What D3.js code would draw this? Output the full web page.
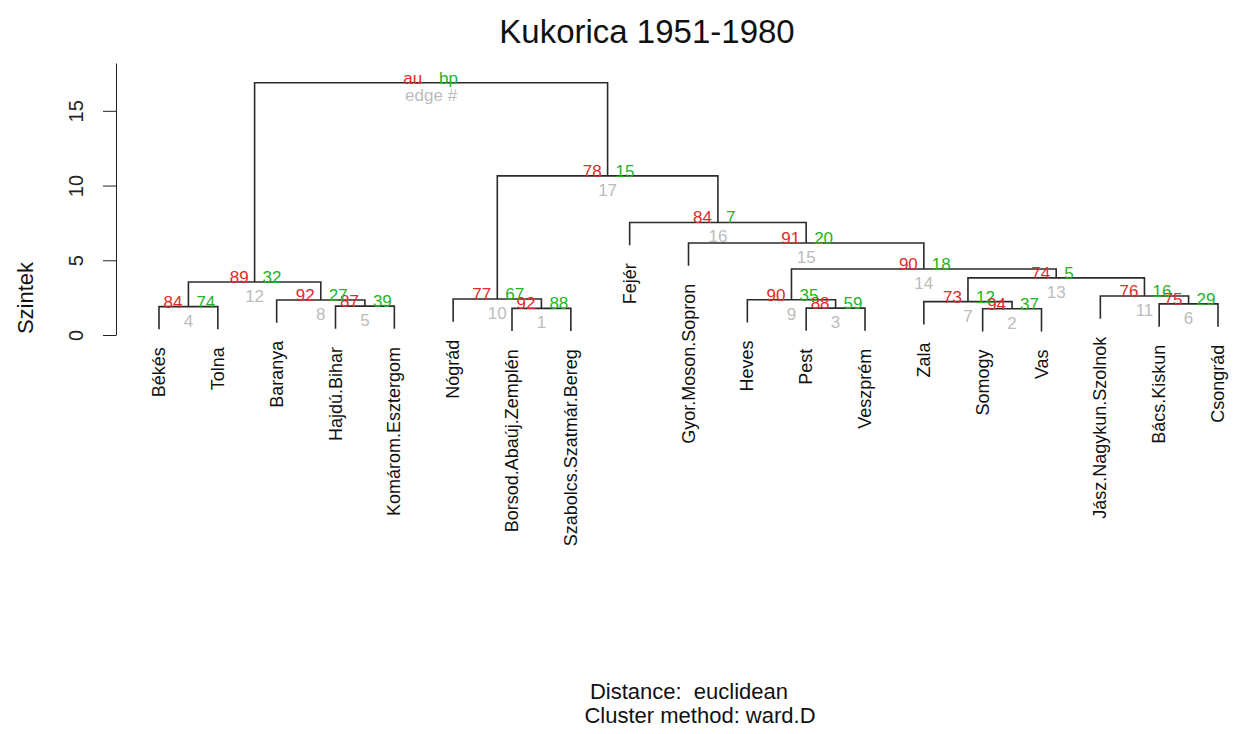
<!DOCTYPE html>
<html>
<head>
<meta charset="utf-8">
<script src="https://cdn.jsdelivr.net/npm/d3@7"></script>
<style>
body { margin: 0; background: #fff; }
text { font-family: "Liberation Sans", Arial, sans-serif; }
</style>
</head>
<body>
<div id="chart-area"></div>
<script>
// Leaves, in plotted order
var leaves = ["Békés", "Tolna", "Baranya", "Hajdú.Bihar", "Komárom.Esztergom",
	"Nógrád", "Borsod.Abaúj.Zemplén", "Szabolcs.Szatmár.Bereg", "Fejér",
	"Gyor.Moson.Sopron", "Heves", "Pest", "Veszprém", "Zala", "Somogy", "Vas",
	"Jász.Nagykun.Szolnok", "Bács.Kiskun", "Csongrád"];

// Merges in edge order (like hclust$merge): negative = leaf (1-based), positive = earlier merge
var mergeLeft  = [-7, -15, -12, -1, -4, -18, -14, -3, -11, -6, -17, 4, 7, 9, -10, -9, 10, 12];
var mergeRight = [-8, -16, -13, -2, -5, -19, 2, 5, 3, 1, 6, 8, 11, 13, 14, 15, 16, 17];
var heights = [1.78, 1.76, 1.80, 1.90, 1.93, 2.08, 2.23, 2.34, 2.36, 2.41, 2.61, 3.55, 3.82, 4.42, 6.16, 7.53, 10.65, 16.88];

// AU / BP values (%) per edge 1..17
var auValues = [92, 94, 88, 84, 87, 75, 73, 92, 90, 77, 76, 89, 74, 90, 91, 84, 78];
var bpValues = [88, 37, 59, 74, 39, 29, 12, 27, 35, 67, 16, 32, 5, 18, 20, 7, 15];

var yTicks = [0, 5, 10, 15];
var hang = 1.52;

// Colors
var auColor = "#e22a2a";
var bpColor = "#25b325";
var edgeColor = "#bcbcbc";
var lineColor = "#2b2b2b";

// Canvas
var canvasWidth = 1237;
var canvasHeight = 734;

var canvas = d3.select("#chart-area")
	.append("svg")
	.attr("width", canvasWidth)
	.attr("height", canvasHeight);

// X - Scale (leaf index)
var x = d3.scaleLinear()
	.domain([0, leaves.length - 1])
	.range([159, 1218]);

// Y - Scale (height)
var y = d3.scaleLinear()
	.domain([0, 18.2])
	.range([335, 63]);

// Title
canvas.append("text")
	.attr("x", 647)
	.attr("y", 43)
	.attr("font-size", "33px")
	.attr("text-anchor", "middle")
	.attr("fill", "#111")
	.text("Kukorica 1951-1980");

// Y-axis
var yAxis = canvas.append("g")
	.attr("transform", "translate(116,0)")
	.call(d3.axisLeft(y).tickValues(yTicks).tickSize(13).tickSizeOuter(0));
yAxis.select(".domain").attr("stroke", "#222");
yAxis.selectAll(".tick line").attr("stroke", "#222");
yAxis.selectAll(".tick text")
	.attr("transform", "rotate(-90)")
	.attr("x", 0)
	.attr("y", -33)
	.attr("dy", 0)
	.attr("text-anchor", "middle")
	.attr("font-size", "20px")
	.attr("font-family", "Liberation Sans, Arial, sans-serif")
	.attr("fill", "#222");

// Y-axis Label
canvas.append("text")
	.attr("transform", "translate(33,298) rotate(-90)")
	.attr("text-anchor", "middle")
	.attr("font-size", "22px")
	.attr("fill", "#111")
	.text("Szintek");

// Node positions
var nodes = [];
function childX(c) {
	return c < 0 ? x(-c - 1) : nodes[c - 1].x;
}
function childTop(c, parentH) {
	return c < 0 ? y(parentH - hang) : y(heights[c - 1]);
}
for (var i = 0; i < mergeLeft.length; i++) {
	var l = mergeLeft[i], r = mergeRight[i];
	var xl = childX(l), xr = childX(r);
	nodes.push({
		edge: i + 1,
		x: (xl + xr) / 2,
		y: y(heights[i]),
		path: "M" + xl + "," + childTop(l, heights[i]) +
			"V" + y(heights[i]) + "H" + xr + "V" + childTop(r, heights[i])
	});
}

// Leaf bottom positions
var leafBottom = [];
for (var i = 0; i < mergeLeft.length; i++) {
	[mergeLeft[i], mergeRight[i]].forEach(function(c) {
		if (c < 0) leafBottom[-c - 1] = y(heights[i] - hang);
	});
}

// Dendrogram lines
canvas.append("g").selectAll("path")
	.data(nodes)
	.enter().append("path")
	.attr("d", function(d) { return d.path; })
	.attr("fill", "none")
	.attr("stroke", lineColor)
	.attr("stroke-width", 1.6);

// Leaf labels
canvas.append("g").selectAll("text")
	.data(leaves)
	.enter().append("text")
	.attr("transform", function(d, i) {
		return "translate(" + (x(i) + 6) + "," + (leafBottom[i] + 18) + ") rotate(-90)";
	})
	.attr("text-anchor", "end")
	.attr("font-size", "18px")
	.attr("fill", "#111")
	.text(function(d) { return d; });

// AU / BP / edge labels
var inner = nodes.slice(0, auValues.length);
var labels = canvas.append("g");
labels.selectAll(".au")
	.data(inner)
	.enter().append("text")
	.attr("x", function(d) { return d.x - 6; })
	.attr("y", function(d) { return d.y + 1; })
	.attr("text-anchor", "end")
	.attr("font-size", "17px")
	.attr("fill", auColor)
	.text(function(d, i) { return auValues[i]; });
labels.selectAll(".bp")
	.data(inner)
	.enter().append("text")
	.attr("x", function(d) { return d.x + 8; })
	.attr("y", function(d) { return d.y + 1; })
	.attr("text-anchor", "start")
	.attr("font-size", "17px")
	.attr("fill", bpColor)
	.text(function(d, i) { return bpValues[i]; });
labels.selectAll(".edge")
	.data(inner)
	.enter().append("text")
	.attr("x", function(d) { return d.x; })
	.attr("y", function(d) { return d.y + 20; })
	.attr("text-anchor", "middle")
	.attr("font-size", "17px")
	.attr("fill", edgeColor)
	.text(function(d) { return d.edge; });

// Root legend
var root = nodes[nodes.length - 1];
labels.append("text").attr("x", root.x - 9).attr("y", root.y + 1)
	.attr("text-anchor", "end").attr("font-size", "17px").attr("fill", auColor).text("au");
labels.append("text").attr("x", root.x + 8).attr("y", root.y + 1)
	.attr("text-anchor", "start").attr("font-size", "17px").attr("fill", bpColor).text("bp");
labels.append("text").attr("x", root.x).attr("y", root.y + 18)
	.attr("text-anchor", "middle").attr("font-size", "17px").attr("fill", edgeColor).text("edge #");

// Subtitle
canvas.append("text")
	.attr("x", 689).attr("y", 699)
	.attr("text-anchor", "middle").attr("font-size", "22px").attr("fill", "#111")
	.attr("xml:space", "preserve").style("white-space", "pre")
	.text("Distance:  euclidean");
canvas.append("text")
	.attr("x", 700).attr("y", 723)
	.attr("text-anchor", "middle").attr("font-size", "22px").attr("fill", "#111")
	.text("Cluster method: ward.D");
</script>
</body>
</html>
